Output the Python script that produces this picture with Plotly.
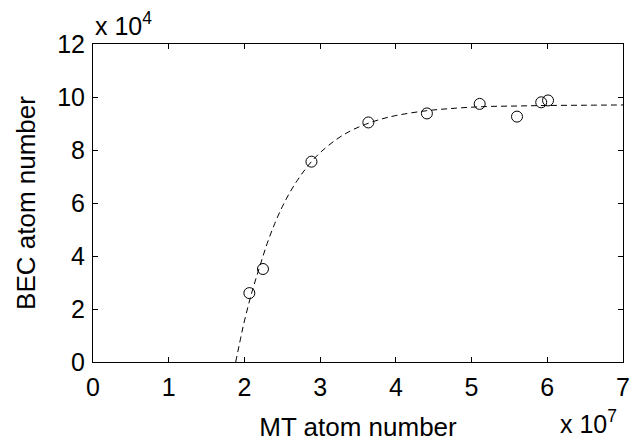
import plotly.graph_objects as go

# measured data (x in units of 1e7, y in units of 1e4)
mt_atoms = [2.065, 2.245, 2.885, 3.637, 4.41, 5.107, 5.60, 5.92, 6.01]
bec_atoms = [2.60, 3.51, 7.56, 9.04, 9.38, 9.74, 9.26, 9.80, 9.87]

# dashed fit curve
fit_x = [1.885, 1.95, 2.0, 2.1, 2.2, 2.3, 2.4, 2.5, 2.6, 2.7, 2.8, 2.9, 3.0,
         3.2, 3.4, 3.6, 3.8, 4.0, 4.4, 4.8, 5.2, 5.6, 6.0, 6.5, 7.0]
fit_y = [0.0, 0.90, 1.55, 2.65, 3.58, 4.47, 5.22, 5.86, 6.40, 6.86, 7.26, 7.61, 7.90,
         8.37, 8.72, 8.97, 9.16, 9.30, 9.48, 9.58, 9.64, 9.66, 9.68, 9.69, 9.70]

x_ticks = [0, 1, 2, 3, 4, 5, 6, 7]
y_ticks = [0, 2, 4, 6, 8, 10, 12]

FONT = "Liberation Sans, Arial, Helvetica, sans-serif"

fig = go.Figure()
fig.add_trace(go.Scatter(
    x=fit_x, y=fit_y, mode="lines", line_shape="spline",
    line=dict(color="black", width=1, dash="6px,4px"),
    hoverinfo="skip", showlegend=False))
fig.add_trace(go.Scatter(
    x=mt_atoms, y=bec_atoms, mode="markers",
    marker=dict(symbol="circle-open", size=11, color="black", line=dict(width=1, color="black")),
    showlegend=False))

axis_common = dict(
    showgrid=False, zeroline=False, showline=True, linecolor="black", linewidth=1,
    mirror="ticks", ticks="inside", ticklen=5, tickwidth=1, tickcolor="black",
    tickfont=dict(family=FONT, size=25, color="black"), automargin=False,
)

fig.update_layout(
    width=632, height=444,
    margin=dict(l=93, r=9, t=44, b=82, pad=0),
    paper_bgcolor="white", plot_bgcolor="white",
    font=dict(family=FONT, size=25, color="black"),
    xaxis=dict(range=[0, 7], tickvals=x_ticks, ticktext=[str(v) for v in x_ticks],
               title=dict(text="MT atom number", font=dict(family=FONT, size=26), standoff=17),
               ticklabelstandoff=3, **axis_common),
    yaxis=dict(range=[0, 12], tickvals=y_ticks, ticktext=[str(v) for v in y_ticks],
               title=dict(text="BEC atom number", font=dict(family=FONT, size=26), standoff=14),
               ticklabelstandoff=2, **axis_common),
    annotations=[
        dict(text="x 10<sup>4</sup>", xref="paper", yref="paper", x=0.0, y=1.0,
             xanchor="left", yanchor="bottom", yshift=2, xshift=0, showarrow=False,
             font=dict(family=FONT, size=25, color="black")),
        dict(text="x 10<sup>7</sup>", xref="paper", yref="paper", x=1.0, y=0.0,
             xanchor="right", yanchor="top", yshift=-42, xshift=-4, showarrow=False,
             font=dict(family=FONT, size=25, color="black")),
    ],
)

fig.write_html("out.html")
